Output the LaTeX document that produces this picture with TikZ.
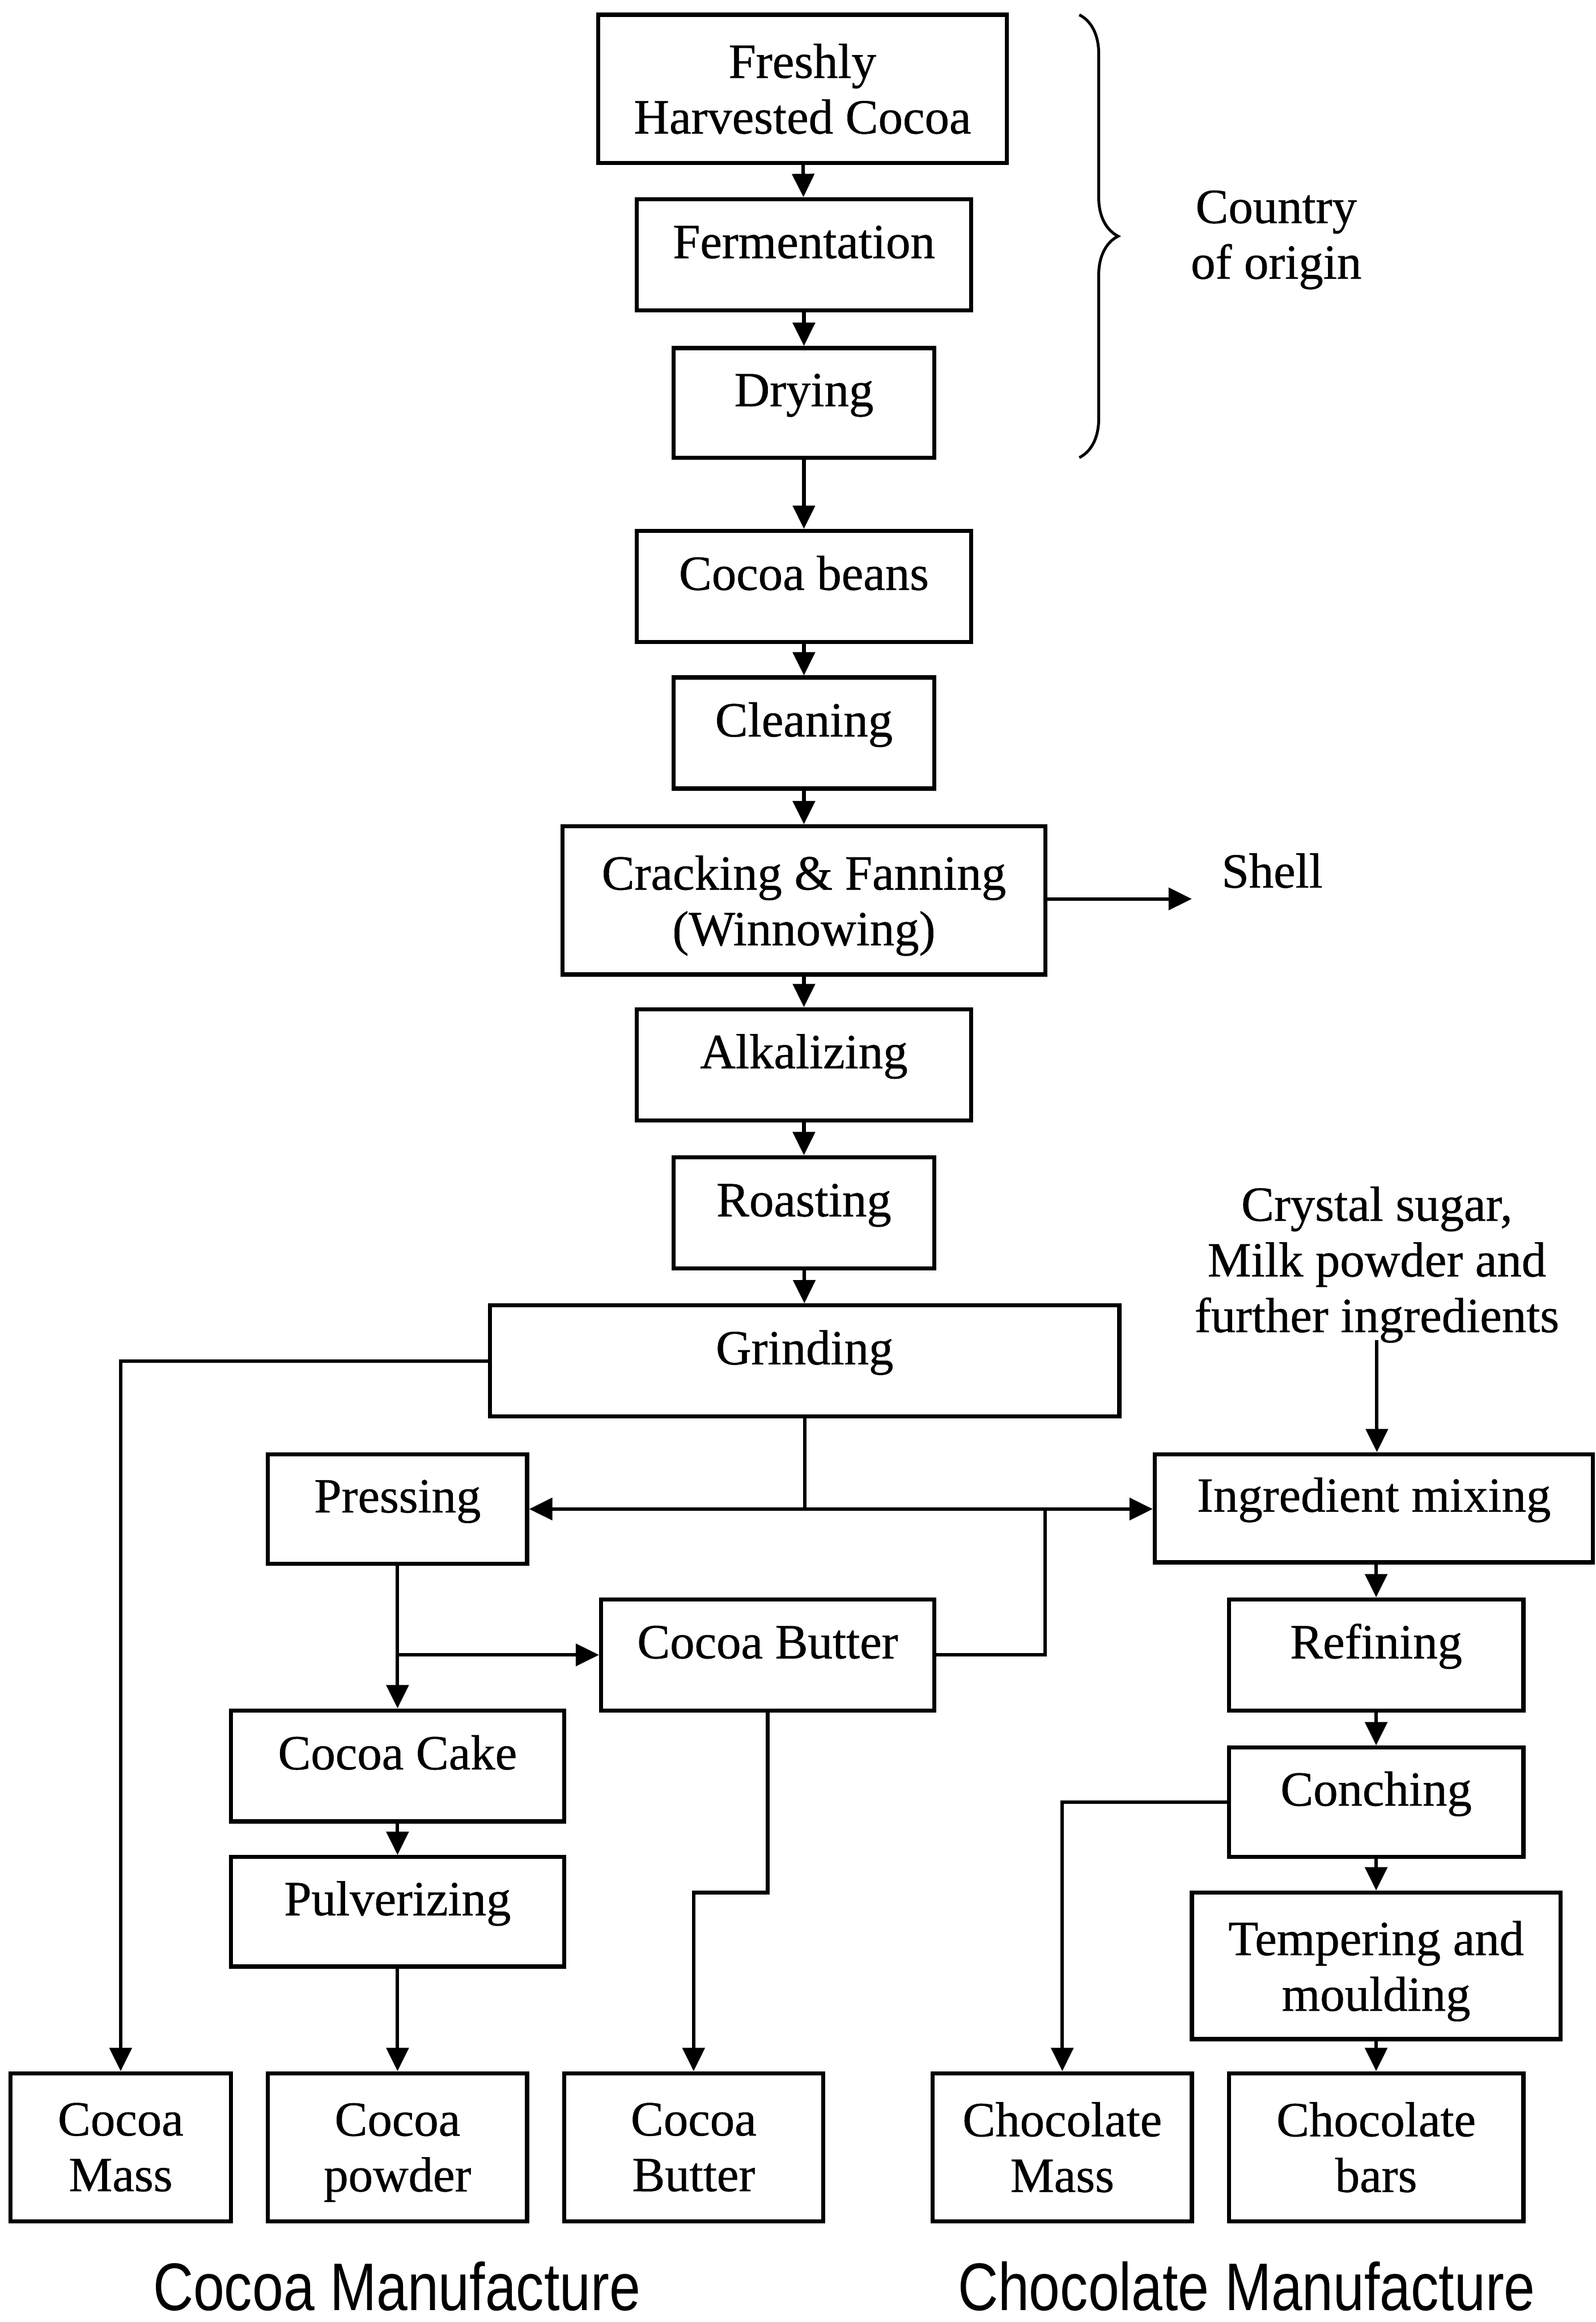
\documentclass[tikz,border=0pt]{standalone}
\usepackage{fontspec}
\setmainfont[FakeBold=0.6]{Liberation Serif}
\newfontfamily\labelsans[FakeStretch=0.83]{Liberation Sans}
\usetikzlibrary{arrows.meta,decorations.pathreplacing}
\def\pxu{1.144pt}
\begin{document}
\begin{tikzpicture}[x=1.144pt,y=-1.144pt,
  box/.style={draw, line width=3.2pt, align=center, inner sep=0pt, font=\fontsize{38}{43}\selectfont},
  one/.style={text height=0.72em, text depth=0.19em},
  txt/.style={align=center, inner sep=0pt, font=\fontsize{38}{43}\selectfont},
  ln/.style={line width=2.7pt},
  arr/.style={line width=2.7pt, -{Triangle[length=18pt,width=17pt]}},
  captext/.style={inner sep=0pt, font=\labelsans\fontsize{52}{58}\selectfont}]
\useasboundingbox[fill=white] (0,0) rectangle (1078,1568);
% top chain
\node[box, minimum width=276*\pxu, minimum height=100*\pxu] (fresh) at (542,60) {Freshly\\Harvested Cocoa};
\node[box, one, minimum width=226*\pxu, minimum height=75*\pxu] (ferm) at (543,172) {Fermentation};
\node[box, one, minimum width=176*\pxu, minimum height=74*\pxu] (dry) at (543,272) {Drying};
\node[box, one, minimum width=226*\pxu, minimum height=75*\pxu] (beans) at (543,396) {Cocoa beans};
\node[box, one, minimum width=176*\pxu, minimum height=75*\pxu] (clean) at (543,495) {Cleaning};
\node[box, minimum width=326*\pxu, minimum height=100*\pxu] (crack) at (543,608) {Cracking \& Fanning\\\smash{(Winnowing)}};
\node[box, one, minimum width=226*\pxu, minimum height=75*\pxu] (alk) at (543,719) {Alkalizing};
\node[box, one, minimum width=176*\pxu, minimum height=75*\pxu] (roast) at (543,819) {Roasting};
\node[box, one, minimum width=425*\pxu, minimum height=75*\pxu] (grind) at (543.5,919) {Grinding};
% side texts
\node[txt] (country) at (862,162) {Country\\of origin};
\node[txt, anchor=west] (shell) at (825,588) {Shell};
\coordinate (shellend) at (805,607);
\node[txt] (sugar) at (930,854) {Crystal sugar,\\Milk powder and\\further ingredients};
\coordinate (sugarend) at (930,905);
% middle
\node[box, one, minimum width=175*\pxu, minimum height=74*\pxu] (press) at (268.5,1019) {Pressing};
\node[box, one, minimum width=296*\pxu, minimum height=73*\pxu] (mix) at (928,1018.5) {Ingredient mixing};
\node[box, one, minimum width=225*\pxu, minimum height=75*\pxu] (cbut) at (518.5,1117.5) {Cocoa Butter};
\node[box, one, minimum width=225*\pxu, minimum height=75*\pxu] (cake) at (268.5,1192.5) {Cocoa Cake};
\node[box, one, minimum width=225*\pxu, minimum height=74*\pxu] (pulv) at (268.5,1291) {Pulverizing};
\node[box, one, minimum width=199*\pxu, minimum height=75*\pxu] (refine) at (929.5,1117.5) {Refining};
\node[box, one, minimum width=199*\pxu, minimum height=74*\pxu] (conch) at (929.5,1217) {Conching};
\node[box, minimum width=249*\pxu, minimum height=99*\pxu] (temper) at (929.5,1327.5) {Tempering and\\\smash{moulding}};
% bottom products
\node[box, minimum width=149*\pxu, minimum height=100*\pxu] (cmass) at (81.5,1450) {Cocoa\\Mass};
\node[box, minimum width=175*\pxu, minimum height=100*\pxu] (cpowder) at (268.5,1450) {Cocoa\\\smash{powder}};
\node[box, minimum width=175*\pxu, minimum height=100*\pxu] (cbutter) at (468.5,1450) {Cocoa\\Butter};
\node[box, minimum width=175*\pxu, minimum height=100*\pxu] (chmass) at (717.5,1450) {Chocolate\\Mass};
\node[box, minimum width=199*\pxu, minimum height=100*\pxu] (bars) at (929.5,1450) {Chocolate\\bars};
% captions
\node[captext] (capcocoa) at (268,1544) {Cocoa Manufacture};
\node[captext] (capchoc) at (842,1544) {Chocolate Manufacture};
% brace
\coordinate (bt) at (729,10);
\coordinate (bb) at (729,309);
\draw[line width=2.2pt, decorate, decoration={brace, amplitude=30pt}] (bt) -- (bb);
% connectors
\draw[arr] (fresh) -- (ferm);
\draw[arr] (ferm) -- (dry);
\draw[arr] (dry) -- (beans);
\draw[arr] (beans) -- (clean);
\draw[arr] (clean) -- (crack);
\draw[arr] (crack) -- (alk);
\draw[arr] (alk) -- (roast);
\draw[arr] (roast) -- (grind);
\draw[arr] (crack.east |- shellend) -- (shellend);
\draw[arr] (grind.west) -| (cmass.north);
\coordinate (j1) at (543.5,1019);
\coordinate (j2) at (706,1019);
\draw[ln] (grind.south) -- (j1);
\draw[arr] (j1) -- (press.east);
\draw[arr] (j1) -- (mix.west |- j1);
\draw[ln] (cbut.east) -| (j2);
\draw[arr] (press) -- (cake);
\coordinate (j3) at (268.5,1117.5);
\draw[arr] (j3) -- (cbut.west);
\draw[arr] (cake) -- (pulv);
\draw[arr] (pulv) -- (cpowder);
\coordinate (j4) at (518.5,1278);
\coordinate (j5) at (468.5,1278);
\draw[arr] (cbut.south) -- (j4) -- (j5) -- (cbutter.north);
\draw[arr] (sugarend) -- (mix.north -| sugarend);
\draw[arr] (mix.south -| refine.north) -- (refine.north);
\draw[arr] (refine) -- (conch);
\draw[arr] (conch) -- (temper);
\draw[arr] (temper) -- (bars);
\draw[arr] (conch.west) -| (chmass.north);
\end{tikzpicture}
\end{document}
